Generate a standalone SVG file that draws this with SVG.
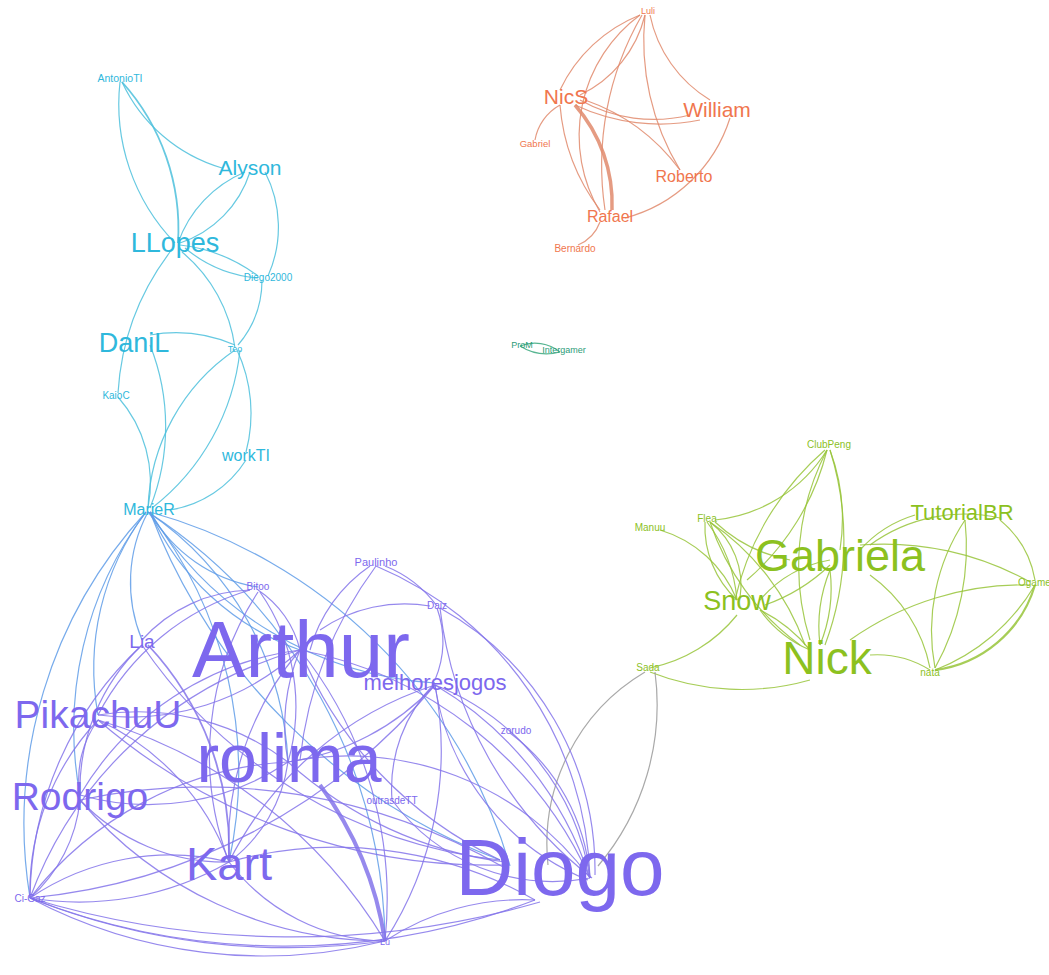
<svg xmlns="http://www.w3.org/2000/svg" width="1049" height="975" viewBox="0 0 1049 975">
<style>
text{font-family:"Liberation Sans",Arial,sans-serif;text-anchor:middle}
.e path{fill:none;stroke-width:1.2;stroke-opacity:.85}
.c path{stroke:#4cc0dc}
.b path{stroke:#5f9ce8}
.o path{stroke:#e08a6c}
.t path{stroke:#3aa87e}
.g path{stroke:#98c43a}
.p path{stroke:#8474ea}
.y path{stroke:#9a9a9a}
.tc{fill:#2fb8dc}
.to{fill:#f0764e}
.tt{fill:#2c9c78}
.tg{fill:#8cc11f}
.tp{fill:#7d68ee}
</style>
<rect width="1049" height="975" fill="#fff"/>
<g id="connectors" class="e">
<g class="c">
<path d="M120 82 A200 200 0 0 0 175 243"/>
<path d="M122 82 A220 220 0 0 1 178 243" style="stroke-width:1.8"/>
<path d="M122 82 A160 160 0 0 0 222 168"/>
<path d="M178 243 A120 120 0 0 1 245 172"/>
<path d="M180 243 A110 110 0 0 0 250 172"/>
<path d="M265 172 A120 120 0 0 1 268 276"/>
<path d="M185 248 A130 130 0 0 0 258 278"/>
<path d="M180 245 A160 160 0 0 1 258 276"/>
<path d="M170 252 A260 260 0 0 0 118 393"/>
<path d="M182 252 A150 150 0 0 1 235 348"/>
<path d="M150 335 A150 150 0 0 1 235 345"/>
<path d="M118 397 A130 130 0 0 1 148 508"/>
<path d="M150 345 A220 220 0 0 1 150 508"/>
<path d="M235 350 A200 200 0 0 0 148 508"/>
<path d="M237 350 A150 150 0 0 1 246 452"/>
<path d="M246 460 A110 110 0 0 1 170 510"/>
<path d="M240 350 A230 230 0 0 1 152 508"/>
<path d="M262 280 A100 100 0 0 1 238 345"/>
</g>
<g class="b">
<path d="M148 512 A150 150 0 0 0 142 640"/>
<path d="M150 512 A150 150 0 0 0 258 587"/>
<path d="M150 512 A260 260 0 0 0 300 650"/>
<path d="M148 512 A320 320 0 0 1 288 762"/>
<path d="M148 512 A420 420 0 0 1 229 862"/>
<path d="M150 512 A600 600 0 0 0 500 860"/>
<path d="M150 512 A520 520 0 0 1 510 866"/>
<path d="M146 512 A260 260 0 0 0 98 715"/>
<path d="M146 512 A360 360 0 0 0 80 795"/>
<path d="M146 512 A460 460 0 0 0 30 898"/>
<path d="M148 512 A520 520 0 0 1 385 941"/>
<path d="M150 512 A360 360 0 0 0 435 683"/>
</g>
<g class="o">
<path d="M645 15 A120 120 0 0 1 580 95"/>
<path d="M640 15 A150 150 0 0 0 560 90"/>
<path d="M650 15 A130 130 0 0 0 710 100"/>
<path d="M645 15 A250 250 0 0 0 680 170"/>
<path d="M642 15 A300 300 0 0 0 605 210"/>
<path d="M640 15 A150 150 0 0 0 600 212"/>
<path d="M575 105 A150 150 0 0 1 612 210" style="stroke-width:3.5"/>
<path d="M560 105 A200 200 0 0 0 600 210"/>
<path d="M580 100 A150 150 0 0 0 690 115"/>
<path d="M585 100 A200 200 0 0 1 680 170"/>
<path d="M560 105 A50 50 0 0 0 535 140"/>
<path d="M730 118 A150 150 0 0 1 625 218"/>
<path d="M600 222 A40 40 0 0 1 578 245"/>
<path d="M700 120 A200 200 0 0 1 575 105"/>
</g>
<g class="t">
<path d="M520 346 A40 40 0 0 1 560 352"/>
<path d="M520 346 A50 50 0 0 0 560 352"/>
</g>
<g class="g">
<path d="M715 520 A150 150 0 0 0 827 450"/>
<path d="M827 450 A250 250 0 0 1 747 580"/>
<path d="M825 450 A280 280 0 0 0 735 600"/>
<path d="M827 450 A250 250 0 0 0 810 640"/>
<path d="M830 450 A200 200 0 0 1 840 550"/>
<path d="M830 450 A300 300 0 0 1 825 645"/>
<path d="M660 530 A120 120 0 0 1 737 600"/>
<path d="M705 522 A100 100 0 0 0 737 600"/>
<path d="M707 522 A150 150 0 0 1 737 600"/>
<path d="M710 522 A80 80 0 0 1 740 598"/>
<path d="M715 522 A150 150 0 0 0 790 560"/>
<path d="M710 522 A250 250 0 0 0 800 645"/>
<path d="M710 522 A250 250 0 0 1 805 645"/>
<path d="M760 600 A120 120 0 0 1 830 560"/>
<path d="M765 605 A180 180 0 0 0 830 565"/>
<path d="M760 610 A120 120 0 0 0 810 650"/>
<path d="M760 610 A150 150 0 0 1 810 650"/>
<path d="M737 615 A150 150 0 0 1 650 668"/>
<path d="M830 570 A150 150 0 0 0 820 645"/>
<path d="M830 570 A150 150 0 0 1 820 645"/>
<path d="M915 515 A120 120 0 0 0 860 550"/>
<path d="M1000 518 A160 160 0 0 0 870 545"/>
<path d="M965 520 A250 250 0 0 1 935 668"/>
<path d="M965 520 A200 200 0 0 0 935 668"/>
<path d="M1000 520 A100 100 0 0 1 1035 580"/>
<path d="M860 545 A300 300 0 0 1 1030 582"/>
<path d="M870 575 A150 150 0 0 1 930 668"/>
<path d="M850 640 A300 300 0 0 1 1030 585"/>
<path d="M870 655 A100 100 0 0 1 930 670"/>
<path d="M1035 585 A120 120 0 0 1 935 670" style="stroke-width:2.2"/>
<path d="M1035 585 A200 200 0 0 1 935 670"/>
<path d="M650 672 A250 250 0 0 0 810 680"/>
</g>
<g class="y">
<path d="M645 672 A200 200 0 0 0 548 865"/>
<path d="M655 672 A250 250 0 0 1 598 866"/>
</g>
<g class="p">
<path d="M258 590 A100 100 0 0 1 300 650"/>
<path d="M250 590 A150 150 0 0 0 142 640"/>
<path d="M250 590 A250 250 0 0 0 98 715"/>
<path d="M260 592 A200 200 0 0 1 288 762"/>
<path d="M258 592 A300 300 0 0 0 229 862"/>
<path d="M370 566 A150 150 0 0 0 310 650"/>
<path d="M385 566 A120 120 0 0 1 437 606"/>
<path d="M376 566 A400 400 0 0 0 300 760"/>
<path d="M376 566 A350 350 0 0 1 590 878"/>
<path d="M430 606 A150 150 0 0 0 320 630"/>
<path d="M440 608 A300 300 0 0 1 595 875"/>
<path d="M440 608 A400 400 0 0 0 592 878"/>
<path d="M437 608 A100 100 0 0 1 435 680"/>
<path d="M300 650 A200 200 0 0 0 288 762"/>
<path d="M300 650 A400 400 0 0 1 590 878"/>
<path d="M300 650 A400 400 0 0 0 500 860"/>
<path d="M300 650 A300 300 0 0 0 229 862"/>
<path d="M300 650 A400 400 0 0 1 385 941"/>
<path d="M300 650 A400 400 0 0 0 30 898"/>
<path d="M300 650 A300 300 0 0 0 80 795"/>
<path d="M300 650 A250 250 0 0 1 98 715"/>
<path d="M435 685 A250 250 0 0 1 590 878"/>
<path d="M435 685 A350 350 0 0 1 590 878"/>
<path d="M435 685 A250 250 0 0 0 588 880"/>
<path d="M435 685 A250 250 0 0 1 288 762"/>
<path d="M435 685 A350 350 0 0 0 229 862"/>
<path d="M435 685 A350 350 0 0 1 385 941"/>
<path d="M435 685 A600 600 0 0 1 30 898"/>
<path d="M510 733 A200 200 0 0 1 590 878"/>
<path d="M288 762 A400 400 0 0 0 505 862"/>
<path d="M288 762 A300 300 0 0 1 590 878"/>
<path d="M320 785 A350 350 0 0 1 385 941" style="stroke-width:4"/>
<path d="M288 762 A150 150 0 0 1 229 862"/>
<path d="M288 762 A250 250 0 0 1 80 795"/>
<path d="M288 762 A350 350 0 0 0 30 898"/>
<path d="M288 762 A250 250 0 0 0 98 715"/>
<path d="M98 720 A100 100 0 0 0 80 795"/>
<path d="M98 720 A250 250 0 0 0 30 898"/>
<path d="M98 720 A250 250 0 0 1 229 862"/>
<path d="M98 720 A600 600 0 0 0 505 865"/>
<path d="M80 800 A200 200 0 0 0 229 862"/>
<path d="M80 800 A150 150 0 0 1 30 898"/>
<path d="M80 800 A600 600 0 0 1 505 868"/>
<path d="M80 800 A400 400 0 0 0 385 941"/>
<path d="M229 862 A250 250 0 0 0 30 898"/>
<path d="M229 862 A300 300 0 0 1 30 898"/>
<path d="M229 862 A400 400 0 0 1 535 900"/>
<path d="M229 862 A200 200 0 0 0 385 941"/>
<path d="M30 898 A500 500 0 0 0 385 941"/>
<path d="M30 898 A700 700 0 0 0 385 941"/>
<path d="M30 898 A700 700 0 0 0 535 900"/>
<path d="M30 898 A900 900 0 0 0 540 902"/>
<path d="M385 941 A250 250 0 0 1 535 900"/>
<path d="M148 645 A300 300 0 0 1 229 862" style="stroke-width:1.8"/>
<path d="M142 645 A350 350 0 0 0 30 898"/>
<path d="M142 645 A200 200 0 0 0 80 795"/>
<path d="M142 645 A500 500 0 0 0 500 860"/>
<path d="M392 800 A200 200 0 0 0 590 878"/>
<path d="M392 800 A150 150 0 0 1 435 683"/>
<path d="M385 941 A500 500 0 0 0 98 720"/>
</g>
</g>
<g id="AntonioTI"><text class="tc" x="120" y="82" font-size="10.5">AntonioTI</text></g>
<g id="Alyson"><text class="tc" x="250" y="175" font-size="21">Alyson</text></g>
<g id="LLopes"><text class="tc" x="175" y="252" font-size="27">LLopes</text></g>
<g id="Diego2000"><text class="tc" x="268" y="281" font-size="10">Diego2000</text></g>
<g id="DaniL"><text class="tc" x="134" y="352" font-size="27">DaniL</text></g>
<g id="Teo"><text class="tc" x="235" y="352" font-size="9">Teo</text></g>
<g id="KaioC"><text class="tc" x="116" y="399" font-size="10">KaioC</text></g>
<g id="workTI"><text class="tc" x="246" y="461" font-size="16">workTI</text></g>
<g id="MarieR"><text class="tc" x="149" y="515" font-size="16">MarieR</text></g>
<g id="Luli"><text class="to" x="648" y="14" font-size="9">Luli</text></g>
<g id="NicS"><text class="to" x="566" y="104" font-size="21">NicS</text></g>
<g id="William"><text class="to" x="717" y="117" font-size="21">William</text></g>
<g id="Gabriel"><text class="to" x="535" y="147" font-size="9.5">Gabriel</text></g>
<g id="Roberto"><text class="to" x="684" y="182" font-size="16">Roberto</text></g>
<g id="Rafael"><text class="to" x="610" y="222" font-size="16">Rafael</text></g>
<g id="Bernardo"><text class="to" x="575" y="252" font-size="10">Bernardo</text></g>
<g id="ProM"><text class="tt" x="522" y="348" font-size="9">ProM</text></g>
<g id="Intergamer"><text class="tt" x="564" y="353" font-size="9">Intergamer</text></g>
<g id="ClubPeng"><text class="tg" x="829" y="448" font-size="10">ClubPeng</text></g>
<g id="Manuu"><text class="tg" x="650" y="531" font-size="10">Manuu</text></g>
<g id="Flea"><text class="tg" x="707" y="522" font-size="10">Flea</text></g>
<g id="TutorialBR"><text class="tg" x="962" y="520" font-size="22">TutorialBR</text></g>
<g id="Gabriela"><text class="tg" x="840" y="571" font-size="45">Gabriela</text></g>
<g id="Ogamer"><text class="tg" x="1018" y="586" font-size="10" style="text-anchor:start">Ogamer</text></g>
<g id="Snow"><text class="tg" x="737" y="610" font-size="27">Snow</text></g>
<g id="Nick"><text class="tg" x="827" y="674" font-size="46">Nick</text></g>
<g id="nata"><text class="tg" x="930" y="676" font-size="10">nata</text></g>
<g id="Sada"><text class="tg" x="648" y="671" font-size="10">Sada</text></g>
<g id="Bitoo"><text class="tp" x="258" y="590" font-size="10">Bitoo</text></g>
<g id="Paulinho"><text class="tp" x="376" y="566" font-size="11">Paulinho</text></g>
<g id="Daiz"><text class="tp" x="437" y="609" font-size="10">Daiz</text></g>
<g id="Lia"><text class="tp" x="142" y="648" font-size="19">Lia</text></g>
<g id="Arthur"><text class="tp" x="301" y="677" font-size="80">Arthur</text></g>
<g id="melhoresjogos"><text class="tp" x="435" y="690" font-size="22">melhoresjogos</text></g>
<g id="zorudo"><text class="tp" x="516" y="734" font-size="10">zorudo</text></g>
<g id="PikachuU"><text class="tp" x="98" y="728" font-size="39">PikachuU</text></g>
<g id="rolima"><text class="tp" x="289" y="782" font-size="68">rolima</text></g>
<g id="Rodrigo"><text class="tp" x="80" y="810" font-size="39">Rodrigo</text></g>
<g id="outrasdeTT"><text class="tp" x="392" y="804" font-size="10">outrasdeTT</text></g>
<g id="Kart"><text class="tp" x="229" y="880" font-size="47">Kart</text></g>
<g id="Diogo"><text class="tp" x="560" y="895" font-size="80">Diogo</text></g>
<g id="Ci-Gaz"><text class="tp" x="30" y="902" font-size="10">Ci-Gaz</text></g>
<g id="Lu"><text class="tp" x="385" y="945" font-size="9">Lu</text></g>
</svg>
